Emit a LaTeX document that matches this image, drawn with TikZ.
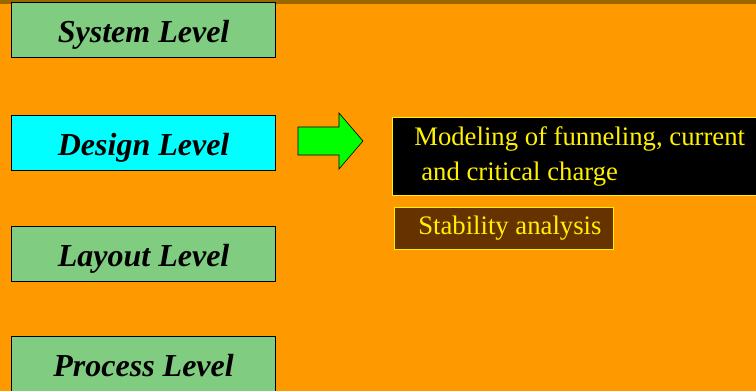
\documentclass[tikz,border=0pt]{standalone}
\usepackage{fontspec}
\setmainfont{Liberation Serif}
\usetikzlibrary{positioning}

\definecolor{slideorange}{HTML}{FF9900}
\definecolor{slidebrown}{HTML}{996600}
\definecolor{levelgreen}{HTML}{80CC80}
\definecolor{levelcyan}{HTML}{00FFFF}
\definecolor{arrowgreen}{HTML}{00FF00}
\definecolor{notebrown}{HTML}{663300}

\tikzset{
	level/.style={rectangle, draw=black, line width=1.2pt, fill=levelgreen, minimum width=264pt, minimum height=55pt, text height=24pt, text depth=0pt, anchor=north west, inner sep=0pt, font=\fontsize{32}{36}\selectfont\bfseries\itshape},
	note/.style={rectangle, draw=yellow, line width=0.6pt, text=yellow, anchor=north west, align=left, inner ysep=0pt, font=\fontsize{26.7}{35}\selectfont}
}

\begin{document}
\begin{tikzpicture}[x=1pt, y=-1pt]
	\fill[slideorange] (0,0) rectangle (756,391);
	\useasboundingbox (0,0) rectangle (756,391);
	\fill[slidebrown] (0,0) rectangle (756,4);

	\node[level](system) at (11,2){System Level};
	\node[level, fill=levelcyan](design) at (11,115){Design Level};
	\node[level](layout) at (11,226){Layout Level};
	\node[level](process) at (11,336){Process Level};

	\draw[line width=0.6pt, fill=arrowgreen] (298,127) -- (339,127) -- (339,113) -- (363,141) -- (339,169) -- (339,155) -- (298,155) -- cycle;

	\node[note, fill=black, minimum width=366pt, minimum height=78pt, inner xsep=22pt](model) at (392,117){Modeling of funneling, current\\[0pt]\hspace{7pt}and critical charge};
	\node[note, fill=notebrown, minimum width=217pt, minimum height=42pt, inner xsep=12pt](stability) at (394,207){\hspace{12pt}Stability analysis};
\end{tikzpicture}
\end{document}
